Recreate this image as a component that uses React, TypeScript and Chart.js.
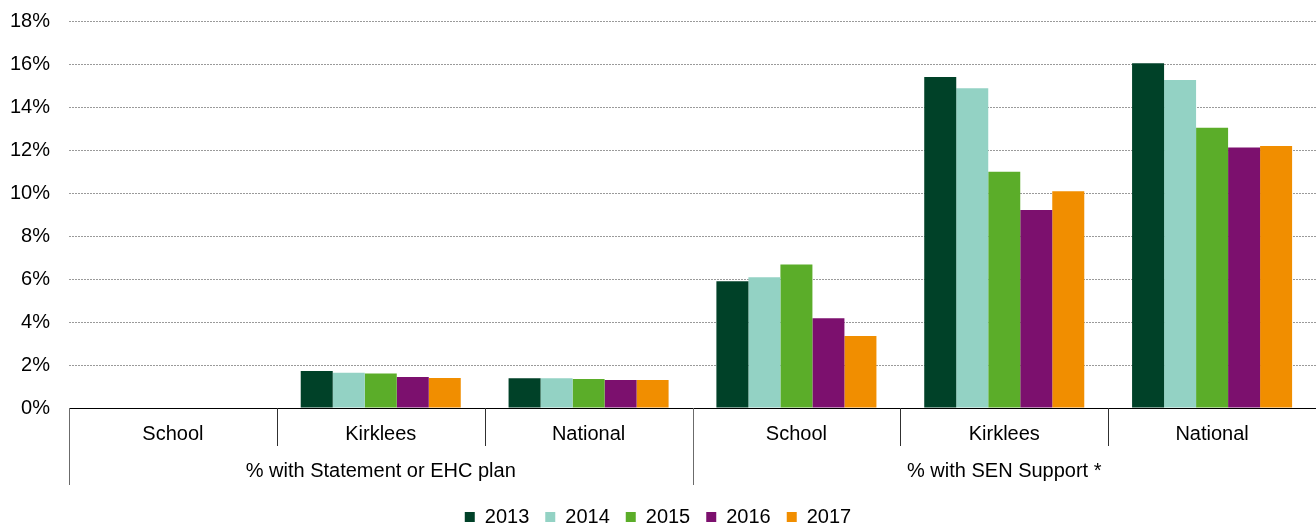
import React, { useEffect, useRef } from "react";
import { Chart, registerables } from "chart.js";

Chart.register(...registerables);

const categories = ["School", "Kirklees", "National", "School", "Kirklees", "National"];
const groups = ["% with Statement or EHC plan", "% with SEN Support *"];
const years = ["2013", "2014", "2015", "2016", "2017"];
const colors = ["#004128", "#93D2C4", "#5BAD29", "#7C106E", "#F18E00"];

const v2013 = [0, 1.72, 1.38, 5.9, 15.4, 16.03];
const v2014 = [0, 1.64, 1.38, 6.08, 14.87, 15.26];
const v2015 = [0, 1.6, 1.35, 6.67, 10.99, 13.04];
const v2016 = [0, 1.44, 1.3, 4.17, 9.21, 12.12];
const v2017 = [0, 1.4, 1.3, 3.35, 10.08, 12.19];
const series = [v2013, v2014, v2015, v2016, v2017];

const FONT = "'Liberation Sans', Arial, sans-serif";

const groupPlugin = {
  id: "groupLabels",
  afterDraw(chart: any) {
    const x = chart.scales.x;
    const ctx = chart.ctx;
    const n = categories.length;
    const w = (x.right - x.left) / n;
    const top = x.top;
    ctx.save();
    ctx.lineWidth = 1;
    for (let k = 0; k <= n; k++) {
      const px = Math.round(x.left + k * w) + 0.5;
      const long = k % 3 === 0;
      ctx.strokeStyle = long ? "#6b6b6b" : "#303030";
      ctx.beginPath();
      ctx.moveTo(px, top);
      ctx.lineTo(px, top + (long ? 77 : 38));
      ctx.stroke();
    }
    ctx.fillStyle = "#000";
    ctx.font = `20px ${FONT}`;
    ctx.textAlign = "center";
    ctx.textBaseline = "middle";
    groups.forEach((g, i) => {
      const cx = x.left + (i * 3 + 1.5) * w;
      ctx.fillText(g, cx, top + 63);
    });
    ctx.restore();
  },
};

export default function App() {
  const ref = useRef<HTMLCanvasElement>(null);
  useEffect(() => {
    document.body.style.margin = "0";
    const chart = new Chart(ref.current as HTMLCanvasElement, {
      type: "bar",
      data: {
        labels: categories,
        datasets: years.map((y, i) => ({
          label: y,
          data: series[i],
          backgroundColor: colors[i],
          borderWidth: 0,
          categoryPercentage: 0.77,
          barPercentage: 1.0,
        })),
      },
      options: {
        responsive: false,
        animation: false,
        layout: { padding: { top: 21, bottom: -9, left: 0, right: 0 } },
        plugins: {
          legend: {
            position: "bottom",
            labels: {
              boxWidth: 10,
              boxHeight: 10,
              padding: 16,
              color: "#000",
              font: { family: FONT, size: 20 },
            },
          },
          tooltip: { enabled: false },
        },
        scales: {
          x: {
            grid: { display: false, drawTicks: false },
            border: { display: true, color: "#000", width: 1 },
            ticks: {
              color: "#000",
              padding: 14,
              font: { family: FONT, size: 20 },
              maxRotation: 0,
              autoSkip: false,
            },
            afterFit(scale: any) {
              scale.height = 83;
            },
          },
          y: {
            min: 0,
            max: 18,
            grid: {
              color: "#9a9a9a",
              drawTicks: true,
              tickLength: 19,
              tickColor: "rgba(0,0,0,0)",
              lineWidth: 1,
            },
            border: { display: false, dash: [2, 1] },
            ticks: {
              stepSize: 2,
              color: "#000",
              padding: 0,
              font: { family: FONT, size: 20 },
              callback: (v: any) => `${v}%`,
            },
            afterFit(scale: any) {
              scale.width = 69;
            },
          },
        },
      },
      plugins: [groupPlugin],
    });
    return () => chart.destroy();
  }, []);
  return (
    <div style={{ width: 1316, height: 528, overflow: "hidden" }}>
      <canvas ref={ref} width={1316} height={528} style={{ display: "block" }} />
    </div>
  );
}
